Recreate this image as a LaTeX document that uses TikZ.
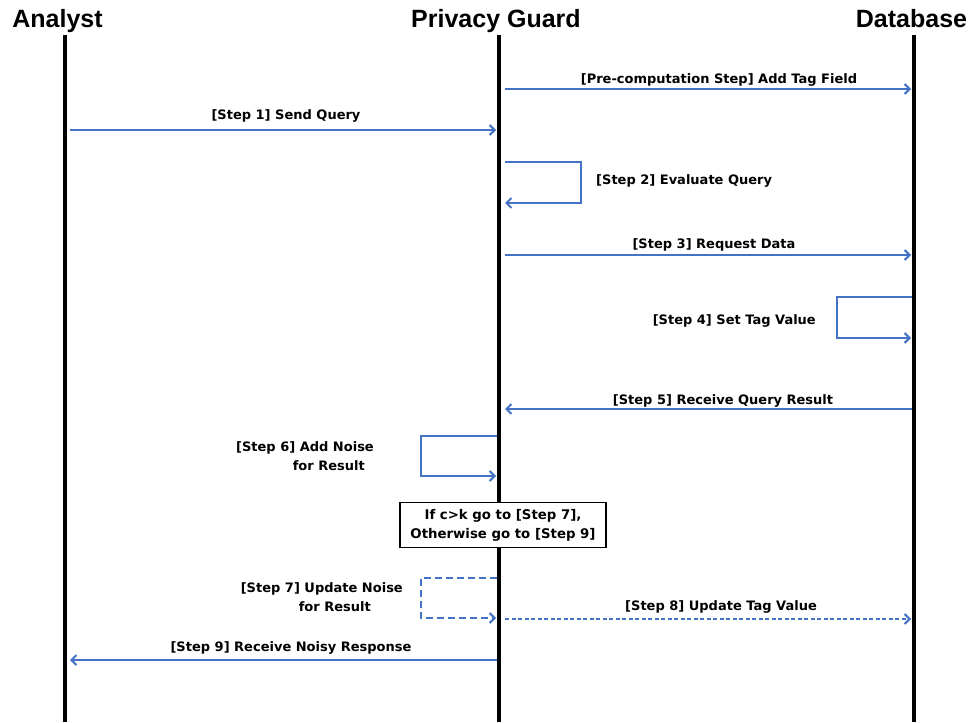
\documentclass[tikz,border=0pt]{standalone}
\usepackage{fontspec}
\setmainfont{DejaVu Sans}
\newfontfamily\titlefont{Liberation Sans}
\usetikzlibrary{arrows.meta}
\definecolor{msgblue}{HTML}{4472C4}
\begin{document}
\begin{tikzpicture}[x=1pt,y=-1pt,
  lifeline/.style={line width=3.5pt,black},
  title/.style={font=\titlefont\bfseries\fontsize{25}{28}\selectfont,inner sep=0pt,anchor=base},
  msg/.style={draw=msgblue,line width=2pt,-{Straight Barb[length=5pt,width=10pt]}},
  msgdashA/.style={msg,dash pattern=on 7pt off 4pt},
  msgdashB/.style={msg,dash pattern=on 4pt off 2.5pt},
  lbl/.style={font=\bfseries\fontsize{13}{19}\selectfont,inner sep=0pt},
  decision/.style={draw=black,line width=1.5pt,fill=white,minimum width=206pt,minimum height=45pt,align=center,inner sep=0pt,font=\bfseries\fontsize{13.3}{19}\selectfont}
]
\useasboundingbox (0,0) rectangle (973,722);

% titles
\node[title] (tA) at (57.5,28) {Analyst};
\node[title] (tP) at (496,28) {Privacy Guard};
\node[title] (tD) at (911.5,28) {Database};

% lifelines
\coordinate (aTop) at (65,35);   \coordinate (aBot) at (65,722);
\coordinate (pTop) at (499,35);  \coordinate (pBot) at (499,722);
\coordinate (dTop) at (914,35);  \coordinate (dBot) at (914,722);
\draw[lifeline] (aTop) -- (aBot);
\draw[lifeline] (pTop) -- (pBot);
\draw[lifeline] (dTop) -- (dBot);

% pre-computation
\coordinate (pc1) at (505,89); \coordinate (pc2) at (911,89);
\draw[msg] (pc1) -- (pc2);
\node[lbl] (lpc) at (719,80) {[Pre-computation Step] Add Tag Field};

% step 1
\coordinate (s1a) at (70,130); \coordinate (s1b) at (496,130);
\draw[msg] (s1a) -- (s1b);
\node[lbl] (l1) at (286,116) {[Step 1] Send Query};

% step 2
\coordinate (s2a) at (505,162); \coordinate (s2c) at (581,203); \coordinate (s2b) at (505,203);
\draw[msg] (s2a) -| (s2c) -- (s2b);
\node[lbl,anchor=west] (l2) at (596,181) {[Step 2] Evaluate Query};

% step 3
\coordinate (s3a) at (505,255); \coordinate (s3b) at (911,255);
\draw[msg] (s3a) -- (s3b);
\node[lbl] (l3) at (714,245) {[Step 3] Request Data};

% step 4
\coordinate (s4a) at (912,297); \coordinate (s4c) at (837,338); \coordinate (s4b) at (911,338);
\draw[msg] (s4a) -| (s4c) -- (s4b);
\node[lbl,anchor=east] (l4) at (816,321) {[Step 4] Set Tag Value};

% step 5
\coordinate (s5a) at (912,409); \coordinate (s5b) at (505,409);
\draw[msg] (s5a) -- (s5b);
\node[lbl] (l5) at (723,401) {[Step 5] Receive Query Result};

% step 6
\coordinate (s6a) at (497,436); \coordinate (s6c) at (421,476); \coordinate (s6b) at (496,476);
\draw[msg] (s6a) -| (s6c) -- (s6b);
\node[lbl,align=right,anchor=east] (l6) at (374,456) {[Step 6] Add Noise\\for Result\hspace*{9pt}};

% decision
\node[decision] (dec) at (503,525) {If c>k go to [Step 7],\\Otherwise go to [Step 9]};

% step 7
\coordinate (s7a) at (497,578); \coordinate (s7c) at (421,618); \coordinate (s7b) at (496,618);
\draw[msgdashA] (s7a) -| (s7c) -- (s7b);
\node[lbl,align=right,anchor=east] (l7) at (403,597) {[Step 7] Update Noise\\for Result\hspace*{32pt}};

% step 8
\coordinate (s8a) at (505,619); \coordinate (s8b) at (911,619);
\draw[msgdashB] (s8a) -- (s8b);
\node[lbl] (l8) at (721,607) {[Step 8] Update Tag Value};

% step 9
\coordinate (s9a) at (497,660); \coordinate (s9b) at (70,660);
\draw[msg] (s9a) -- (s9b);
\node[lbl] (l9) at (291,648) {[Step 9] Receive Noisy Response};
\end{tikzpicture}
\end{document}
